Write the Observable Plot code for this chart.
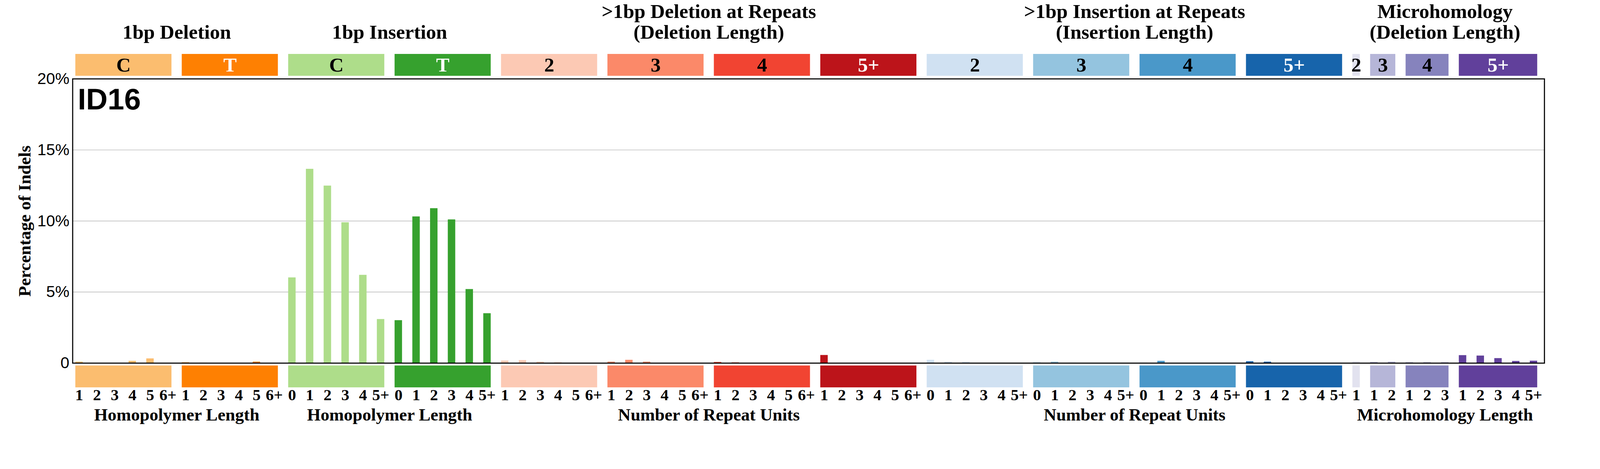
<!DOCTYPE html>
<html>
<head>
<meta charset="utf-8">
<script src="https://cdn.jsdelivr.net/npm/d3@7"></script>
<script src="https://cdn.jsdelivr.net/npm/@observablehq/plot@0.6"></script>
<style>
  html, body { margin: 0; padding: 0; background: #fff; }
</style>
</head>
<body>
<div id="chart"></div>
<script>
// ---------- data ----------
const subgroupNames = ["C", "T", "C", "T", "2", "3", "4", "5+", "2", "3", "4", "5+", "2", "3", "4", "5+"];
const subgroupColors = ["#FBBD6F", "#FE8002", "#AEDD8A", "#36A12E",
                        "#FCC9B4", "#FB8969", "#F14432", "#BC141A",
                        "#D0E1F2", "#94C4DF", "#4A98C9", "#1764AB",
                        "#E2E2EF", "#B6B6D8", "#8683BD", "#61409B"];

const hpDelTicks = ["1", "2", "3", "4", "5", "6+"];
const hpInsTicks = ["0", "1", "2", "3", "4", "5+"];
const repDelTicks = ["1", "2", "3", "4", "5", "6+"];
const repInsTicks = ["0", "1", "2", "3", "4", "5+"];
const mh2Ticks = ["1"];
const mh3Ticks = ["1", "2"];
const mh4Ticks = ["1", "2", "3"];
const mh5Ticks = ["1", "2", "3", "4", "5+"];

// percentage of indels
const del1C = [0.09, 0, 0, 0.15, 0.32, 0];
const del1T = [0.04, 0.02, 0, 0, 0.09, 0];
const ins1C = [6.02, 13.66, 12.48, 9.90, 6.20, 3.09];
const ins1T = [3.01, 10.31, 10.89, 10.10, 5.20, 3.50];
const delRep2 = [0.17, 0.20, 0.09, 0.04, 0, 0];
const delRep3 = [0.09, 0.22, 0.09, 0, 0, 0];
const delRep4 = [0.07, 0.04, 0, 0, 0, 0];
const delRep5 = [0.56, 0, 0, 0, 0, 0];
const insRep2 = [0.22, 0.09, 0.07, 0, 0.02, 0];
const insRep3 = [0.04, 0.09, 0.02, 0, 0, 0];
const insRep4 = [0.02, 0.15, 0, 0, 0, 0];
const insRep5 = [0.12, 0.09, 0, 0, 0, 0];
const mh2 = [0.12];
const mh3 = [0.07, 0.09];
const mh4 = [0.04, 0.04, 0.04];
const mh5 = [0.55, 0.52, 0.34, 0.14, 0.16];

const groupTitles = ["1bp Deletion", "1bp Insertion",
  ">1bp Deletion at Repeats\n(Deletion Length)",
  ">1bp Insertion at Repeats\n(Insertion Length)",
  "Microhomology\n(Deletion Length)"];
const groupAxisLabels = ["Homopolymer Length", "Homopolymer Length",
  "Number of Repeat Units", "Number of Repeat Units", "Microhomology Length"];
const groupSubgroups = [[0, 1], [2, 3], [4, 7], [8, 11], [12, 15]];

const yTicks = [0, 5, 10, 15, 20];
const signatureName = "ID16";

// ---------- build tables ----------
const subValues = [del1C, del1T, ins1C, ins1T, delRep2, delRep3, delRep4, delRep5,
                   insRep2, insRep3, insRep4, insRep5, mh2, mh3, mh4, mh5];
const subTicks = [hpDelTicks, hpDelTicks, hpInsTicks, hpInsTicks,
                  repDelTicks, repDelTicks, repDelTicks, repDelTicks,
                  repInsTicks, repInsTicks, repInsTicks, repInsTicks,
                  mh2Ticks, mh3Ticks, mh4Ticks, mh5Ticks];

const channels = [];
const boxes = [];
let k = 0;
subValues.forEach((vals, g) => {
  const start = k;
  vals.forEach((v, j) => channels.push({i: k++, g, v, label: subTicks[g][j]}));
  boxes.push({g, name: subgroupNames[g], first: start, last: k - 1,
              fill: subgroupColors[g],
              textFill: [1, 3, 7, 11, 15].includes(g) ? "white" : "black"});
});
const groups = groupSubgroups.map(([a, b], n) => ({
  title: groupTitles[n], axisLabel: groupAxisLabels[n],
  center: (boxes[a].first + boxes[b].last) / 2
}));

// ---------- layout ----------
const W = 4393, H = 1200;
const fLeft = 199, fRight = 4240, fTop = 216, fBottom = 996;
const c0 = 217, pitch = 48.7;         // pixel of first bar center, spacing
const xDomain = [(fLeft - c0) / pitch, (fRight - c0) / pitch];
const yMax = 20;
const pxToY = p => yMax * (fBottom - p) / (fBottom - fTop);
const topBox = [pxToY(208), pxToY(148)];
const botBox = [pxToY(1063), pxToY(1003)];
const half = 0.21;
const serif = "'Liberation Serif', 'Times New Roman', serif";
const sans = "'Liberation Sans', Arial, sans-serif";

const chart = Plot.plot({
  width: W, height: H,
  marginLeft: fLeft, marginRight: W - fRight, marginTop: fTop, marginBottom: H - fBottom,
  x: {domain: xDomain},
  y: {domain: [0, yMax]},
  style: {background: "white", fontFamily: serif, overflow: "visible"},
  marks: [
    Plot.ruleY([5, 10, 15], {stroke: "#b5b5b5", strokeWidth: 1.5}),
    Plot.rectY(channels, {x1: d => d.i - half, x2: d => d.i + half, y1: 0, y2: "v",
                          fill: d => subgroupColors[d.g]}),
    Plot.rect(boxes, {x1: d => d.first - half, x2: d => d.last + half,
                      y1: topBox[0], y2: topBox[1], fill: "fill"}),
    Plot.rect(boxes, {x1: d => d.first - half, x2: d => d.last + half,
                      y1: botBox[0], y2: botBox[1], fill: "fill"}),
    Plot.text(boxes, {x: d => (d.first + d.last) / 2, y: (topBox[0] + topBox[1]) / 2,
                      text: "name", fill: "textFill", fontSize: 55, fontWeight: "bold",
                      fontFamily: serif}),
    Plot.text(groups, {x: "center", frameAnchor: "top", dy: -(fTop - 106),
                       lineAnchor: "bottom", lineHeight: 1.04, text: "title",
                       fontSize: 55, fontWeight: "bold", fontFamily: serif, fill: "black"}),
    Plot.axisX(d3.range(channels.length), {tickFormat: i => channels[i].label,
                       tickSize: 0, tickPadding: 71, fontSize: 44, fontWeight: "bold",
                       fontFamily: serif, fill: "black", label: null}),
    Plot.text(groups, {x: "center", frameAnchor: "bottom", dy: 1153 - fBottom,
                       lineAnchor: "bottom", text: "axisLabel",
                       fontSize: 48, fontWeight: "bold", fontFamily: serif, fill: "black"}),
    Plot.axisY(yTicks, {tickFormat: d => d === 0 ? "0" : d + "%", tickSize: 0,
                        tickPadding: 9, fontSize: 44, fontFamily: sans, fill: "black",
                        label: null}),
    Plot.text(["Percentage of Indels"], {frameAnchor: "left", dx: -131, rotate: -90,
                       textAnchor: "middle",
                       fontSize: 48, fontWeight: "bold", fontFamily: serif, fill: "black"}),
    Plot.text([signatureName], {frameAnchor: "top-left", dx: 14, dy: 300 - fTop,
                       lineAnchor: "bottom", textAnchor: "start",
                       fontSize: 82, fontWeight: "bold", fontFamily: sans, fill: "black"}),
    Plot.frame({stroke: "black", strokeWidth: 3})
  ]
});
document.getElementById("chart").appendChild(chart);
</script>
</body>
</html>
